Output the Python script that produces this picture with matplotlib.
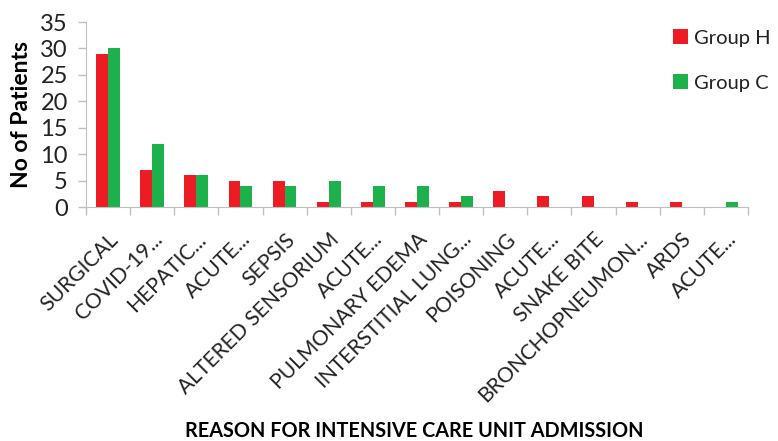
import matplotlib.pyplot as plt
import numpy as np

# Данные по причинам поступления в ОРИТ
categories = ['SURGICAL', 'COVID-19...', 'HEPATIC...', 'ACUTE...', 'SEPSIS',
              'ALTERED SENSORIUM', 'ACUTE...', 'PULMONARY EDEMA',
              'INTERSTITIAL LUNG...', 'POISONING', 'ACUTE...', 'SNAKE BITE',
              'BRONCHOPNEUMON...', 'ARDS', 'ACUTE...']
group_h = [29, 7, 6, 5, 5, 1, 1, 1, 1, 3, 2, 2, 1, 1, 0]
group_c = [30, 12, 6, 4, 4, 5, 4, 4, 2, 0, 0, 0, 0, 0, 1]

red = '#ED1C24'
green = '#1DB14B'
grey = '#BFBFBF'
txt = '#222222'

plt.rcParams['font.family'] = ['Lato', 'DejaVu Sans']

fig = plt.figure(figsize=(7.78, 4.41), dpi=100)
ax = fig.add_axes([0.1105, 0.5306, 0.8509, 0.4194])

x = np.arange(len(categories))
w = 0.27
ax.bar(x - w / 2, group_h, w, color=red, label='Group H')
ax.bar(x + w / 2, group_c, w, color=green, label='Group C')

ax.set_xlim(-0.5, len(categories) - 0.5)
ax.set_ylim(0, 35)
ax.set_yticks(range(0, 36, 5))
ax.tick_params(axis='y', labelsize=17, colors=grey, labelcolor=txt,
               length=6, width=1, pad=7)

# Засечки по оси X между категориями
ax.set_xticks(np.arange(-0.5, len(categories), 1))
ax.set_xticklabels([])
ax.tick_params(axis='x', which='major', length=6, colors=grey, width=1)
ax.set_xticks(x, minor=True)
ax.set_xticklabels(categories, minor=True, rotation=45, ha='right',
                   rotation_mode='anchor', fontsize=15.2, color=txt)
ax.tick_params(axis='x', which='minor', length=0, pad=16)

for s in ['top', 'right']:
    ax.spines[s].set_visible(False)
ax.spines['left'].set_color(grey)
ax.spines['bottom'].set_color(grey)

ax.set_ylabel('No of Patients', fontsize=16.5, fontweight='bold', labelpad=6)
fig.text(0.532, 0.0, 'REASON FOR INTENSIVE CARE UNIT ADMISSION',
         ha='center', va='bottom', fontsize=14.3, fontweight='bold')

leg = ax.legend(loc='upper left', bbox_to_anchor=(0.86, 1.06), frameon=False,
                fontsize=14.5, handlelength=0.7, handleheight=0.8,
                handletextpad=0.3, labelspacing=1.35)
for t in leg.get_texts():
    t.set_color(txt)

fig.savefig('out.png', dpi=100)
